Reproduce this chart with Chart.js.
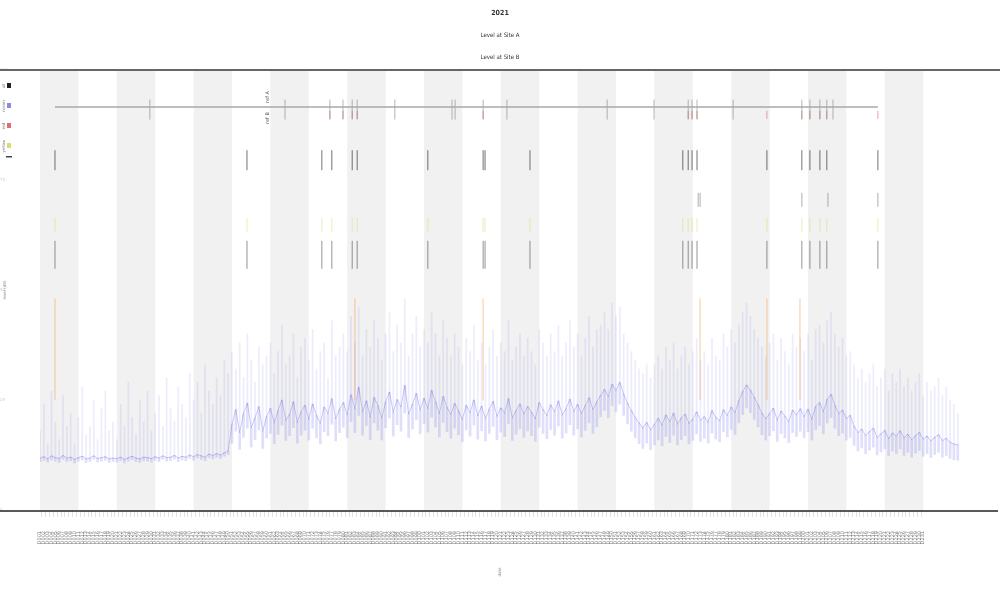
<!doctype html>
<html lang="en">
<head>
  <meta charset="utf-8">
  <title>Signal level with events</title>
  <style>
    * { margin: 0; padding: 0; }
    body { background: #fff; }
    .chartBox { width: 1000px; height: 600px; }
  </style>
</head>
<body>
  <div class="chartBox">
    <canvas id="myChart" width="1000" height="600"></canvas>
  </div>
  <script src="https://cdn.jsdelivr.net/npm/chart.js/dist/chart.umd.min.js"></script>
  <script>
    // setup - values (y: 0..100, x: sample index)
    const titleLines = ['2021', 'Level at Site A', 'Level at Site B'];
    const tickLabels = Array.from({ length: 231 }, (_, i) => 'D' + String(i + 1).padStart(3, '0'));
    const yTicks = [0, 25, 50, 75, 100];

    const blueMid = [
      11.8,12.1,11.6,12.3,11.9,11.7,12.4,11.8,12.0,11.5,
      11.9,12.2,11.6,11.8,12.3,11.7,11.9,12.1,11.6,11.8,
      11.7,12.0,11.5,11.9,12.2,11.8,11.6,12.0,11.9,11.7,
      12.1,11.8,12.3,11.9,12.0,12.4,11.8,12.2,12.0,12.5,
      12.1,12.6,12.3,12.0,12.7,12.4,12.8,12.5,13.0,13.4,
      19.5,22.8,17.6,21.9,24.3,18.7,20.9,23.5,17.9,21.2,
      23.1,19.8,22.6,25.0,20.4,21.7,24.6,19.9,22.3,23.8,
      20.6,24.1,21.5,19.7,23.4,22.0,25.3,20.8,22.9,24.4,
      21.6,26.2,23.0,27.9,22.4,24.8,21.1,25.6,23.7,20.9,
      24.5,26.8,22.2,25.1,23.4,28.3,21.8,24.0,26.5,22.7,
      25.4,23.1,27.2,24.6,21.9,25.8,23.3,
      21.7,24.2,22.5,20.6,23.8,22.1,25.0,21.4,23.6,20.8,
      22.9,24.7,21.3,23.2,22.0,25.3,20.9,22.6,24.1,21.8,
      23.5,22.2,20.7,24.4,22.8,21.5,23.9,22.3,24.8,21.6,
      23.0,25.2,22.4,24.0,21.9,23.7,25.5,22.8,24.6,
      26.0,27.4,25.8,28.6,27.1,29.0,26.3,
      24.2,22.6,21.0,19.8,18.6,19.9,18.2,19.4,
      20.8,19.3,21.6,20.1,22.0,19.5,20.9,21.8,19.7,20.6,
      22.3,20.4,21.2,19.9,22.6,21.0,20.3,22.8,21.5,23.4,22.1,
      24.8,26.9,28.4,27.2,25.6,23.9,
      22.0,20.7,21.9,23.1,20.4,22.5,21.3,20.1,22.7,21.6,23.0,
      21.2,22.9,20.6,23.5,24.4,22.3,25.1,26.3,23.8,21.9,22.7,20.8,21.5,
      19.0,17.6,18.4,16.9,17.8,18.6,16.5,17.3,18.1,16.2,
      17.5,16.8,18.0,16.4,17.2,15.9,16.9,17.6,16.1,16.8,
      15.7,16.5,17.1,15.8,16.3,15.4,15.0,14.8
    ];

    const blueLow = [
      11.0,11.3,10.9,11.4,11.1,10.8,11.5,11.0,11.2,10.7,
      11.1,11.4,10.8,11.0,11.5,10.9,11.1,11.3,10.8,11.0,
      10.9,11.2,10.7,11.1,11.4,11.0,10.8,11.2,11.1,10.9,
      11.3,11.0,11.5,11.1,11.2,11.6,11.0,11.4,11.2,11.7,
      11.3,11.8,11.5,11.2,11.9,11.6,12.0,11.7,12.2,12.6,
      15.2,17.9,13.8,16.5,18.6,14.3,16.0,18.2,14.0,16.4,
      17.4,15.1,17.2,19.3,15.8,16.9,18.7,15.2,17.0,18.1,
      15.9,18.6,16.4,15.0,17.8,16.9,19.5,15.7,17.6,18.8,
      16.4,20.1,17.6,21.5,17.0,19.2,16.0,19.8,18.1,15.9,
      18.7,20.9,16.8,19.4,17.9,22.0,16.5,18.4,20.5,17.3,
      19.6,17.7,21.1,18.9,16.6,19.9,17.8,
      16.3,18.6,17.1,15.5,18.2,16.8,19.3,16.1,18.0,15.7,
      17.4,19.0,16.0,17.7,16.7,19.6,15.8,17.2,18.5,16.5,
      18.0,16.9,15.6,18.8,17.4,16.2,18.3,17.0,19.1,16.3,
      17.5,19.4,17.0,18.4,16.6,18.1,19.8,17.4,18.9,
      21.2,22.6,21.0,23.7,22.3,24.1,21.5,
      19.6,17.9,16.4,15.1,14.0,15.2,13.7,14.8,
      15.9,14.6,16.7,15.3,17.0,14.8,16.0,16.9,15.0,15.8,
      17.3,15.6,16.3,15.2,17.5,16.1,15.5,17.8,16.6,18.3,17.2,
      19.8,21.7,23.2,22.1,20.6,18.9,
      17.1,15.9,16.9,18.0,15.6,17.4,16.4,15.3,17.6,16.7,17.9,
      16.4,17.8,15.9,18.3,19.2,17.3,19.8,21.0,18.6,16.9,17.5,15.9,16.5,
      14.7,13.4,14.1,12.8,13.6,14.3,12.5,13.2,13.9,12.3,
      13.4,12.8,13.9,12.4,13.1,12.0,12.9,13.5,12.2,12.8,
      11.9,12.6,13.1,12.0,12.4,11.7,11.4,11.3
    ];

    const blueHigh = [
      18,24,15,27,20,16,26,19,22,15,
      21,28,17,19,25,16,23,27,18,20,
      16,24,19,29,21,17,25,20,27,18,
      22,26,19,30,23,20,28,24,21,31,
      25,29,22,33,27,24,30,26,34,31,
      36,32,38,30,40,34,29,37,33,35,
      38,31,36,42,33,35,40,30,37,39,
      34,41,32,36,38,30,43,35,37,40,
      36,44,38,46,35,41,37,43,39,34,
      40,45,36,42,38,48,35,40,44,37,
      41,38,45,40,35,43,39,
      35,40,37,33,39,36,42,34,38,33,
      37,41,35,38,36,43,34,37,40,35,
      39,36,33,41,38,35,40,36,42,35,
      38,43,37,40,35,39,44,37,41,
      42,45,41,47,44,46,40,
      38,36,34,32,31,33,30,33,
      35,32,37,34,38,32,35,37,33,36,
      39,34,36,33,39,35,34,40,37,41,38,
      42,45,47,44,41,39,
      37,35,38,40,34,39,36,33,40,37,39,
      36,40,34,41,42,38,43,45,40,37,39,35,36,
      33,30,32,29,31,33,28,30,32,27,
      31,29,32,28,30,27,29,31,26,29,
      27,28,30,26,28,25,24,22
    ];

    // event positions (x in sample units)
    const eventsTop = [28.6, 63.8, 75.5, 78.9, 81.3, 82.6, 92.4, 107.3, 108.1, 115.4, 121.6, 147.7, 159.9,
      168.8, 169.8, 171.1, 180.5, 198.4, 200.5, 203.1, 204.9, 206.5];
    const eventsRed = [75.5, 78.9, 81.3, 82.6, 115.4, 168.8, 169.8, 171.1, 189.3, 198.4, 200.5, 203.1, 204.9, 218.2];
    const eventsBlack = [3.9, 53.9, 73.4, 76.0, 81.3, 82.6, 101.0, 115.4, 115.9, 127.6, 167.4, 168.8, 169.8,
      171.1, 189.3, 198.4, 200.5, 203.1, 204.9, 218.2];
    const eventsGrey = [171.4, 171.9, 198.4, 205.2, 218.2];
    const eventsOrange = [3.9, 82.0, 115.4, 171.9, 189.3, 197.9];
    const refLine = [3.9, 218.2];

    const rowLevels = { top: 91, red: 89.8, black: 79.5, grey: 70.5, yellow: 64.8, low: 58, ref: 91.6 };
    const orangeRange = [25, 48];

    const pts = (xs, y) => xs.map(x => ({ x, y }));

    const data = {
      datasets: [
        {
          type: 'line', label: 'mean', order: 1,
          data: blueMid.map((v, i) => ({ x: i, y: v })),
          borderColor: 'rgba(90, 90, 225, 0.4)', borderWidth: 0.8,
          pointRadius: 0, tension: 0
        },
        {
          type: 'bar', label: 'range', order: 4,
          data: blueLow.map((v, i) => ({ x: i, y: [v, blueMid[i]] })),
          backgroundColor: 'rgba(120, 120, 240, 0.24)', barThickness: 2, grouped: false
        },
        {
          type: 'bar', label: 'max', order: 3,
          data: blueMid.map((v, i) => ({ x: i, y: [v, blueHigh[i]] })),
          backgroundColor: 'rgba(130, 130, 240, 0.15)', barThickness: 1, grouped: false
        },
        {
          type: 'bar', label: 'peak', order: 2,
          data: eventsOrange.map(x => ({ x, y: orangeRange })),
          backgroundColor: 'rgba(240, 150, 60, 0.3)', barThickness: 1, grouped: false
        },
        {
          type: 'line', label: 'ref', order: 0,
          data: pts(refLine, rowLevels.ref),
          borderColor: '#a8a8a8', borderWidth: 1.5, pointRadius: 0
        },
        { type: 'scatter', label: 'all', data: pts(eventsTop, rowLevels.top), pointStyle: 'line', rotation: 90, radius: 10, borderColor: 'rgba(120,120,120,0.55)', borderWidth: 1 },
        { type: 'scatter', label: 'red', data: pts(eventsRed, rowLevels.red), pointStyle: 'line', rotation: 90, radius: 4, borderColor: 'rgba(220,70,70,0.5)', borderWidth: 1 },
        { type: 'scatter', label: 'black', data: pts(eventsBlack, rowLevels.black), pointStyle: 'line', rotation: 90, radius: 10, borderColor: 'rgba(40,40,40,0.65)', borderWidth: 1 },
        { type: 'scatter', label: 'grey', data: pts(eventsGrey, rowLevels.grey), pointStyle: 'line', rotation: 90, radius: 7, borderColor: 'rgba(110,110,110,0.55)', borderWidth: 1 },
        { type: 'scatter', label: 'yellow', data: pts(eventsBlack, rowLevels.yellow), pointStyle: 'line', rotation: 90, radius: 7, borderColor: 'rgba(225,215,110,0.5)', borderWidth: 1 },
        { type: 'scatter', label: 'low', data: pts(eventsBlack, rowLevels.low), pointStyle: 'line', rotation: 90, radius: 14, borderColor: 'rgba(60,60,60,0.55)', borderWidth: 1 }
      ]
    };

    // alternating grey bands, every 10 samples, over the sampled range
    const bands = {
      id: 'bands',
      beforeDatasetsDraw(chart) {
        const { ctx, chartArea: a, scales: { x } } = chart;
        ctx.save();
        ctx.fillStyle = '#f1f1f1';
        for (let k = 0; k < 240; k += 20) {
          const x0 = x.getPixelForValue(k);
          const x1 = x.getPixelForValue(k + 10);
          ctx.fillRect(x0, a.top, x1 - x0, a.bottom - a.top);
        }
        ctx.restore();
      }
    };

    // titles, frame lines, legend and small labels
    const decor = {
      id: 'decor',
      afterDraw(chart) {
        const { ctx, chartArea: a, scales: { x, y } } = chart;
        ctx.save();
        ctx.fillStyle = '#333';
        ctx.textAlign = 'center';
        ctx.textBaseline = 'middle';
        ctx.font = 'bold 7px "DejaVu Sans Condensed", "DejaVu Sans"';
        ctx.fillText(titleLines[0], 500, 13);
        ctx.font = '6px "DejaVu Sans Condensed", "DejaVu Sans"';
        ctx.fillText(titleLines[1], 500, 35);
        ctx.fillText(titleLines[2], 500, 57);

        ctx.strokeStyle = '#666';
        ctx.lineWidth = 2;
        ctx.beginPath();
        ctx.moveTo(0, a.top); ctx.lineTo(1000, a.top);
        ctx.stroke();
        ctx.strokeStyle = '#222';
        ctx.lineWidth = 1.5;
        ctx.beginPath();
        ctx.moveTo(0, a.bottom + 1); ctx.lineTo(998, a.bottom + 1);
        ctx.stroke();

        // legend
        const items = [['#222', 'all'], ['#8a8ae8', 'mean'], ['#e07070', 'red'], ['#d8dc70', 'yellow']];
        ctx.font = '4px "DejaVu Sans"';
        items.forEach(([c, t], i) => {
          const cy = 86 + i * 20;
          ctx.fillStyle = c;
          ctx.fillRect(7, cy - 3, 4, 5);
          ctx.save();
          ctx.translate(4, cy);
          ctx.rotate(-Math.PI / 2);
          ctx.fillStyle = '#777';
          ctx.fillText(t, 0, 0);
          ctx.restore();
        });
        ctx.fillStyle = '#444';
        ctx.fillRect(6, 156, 6, 1.5);

        // small labels by the reference line
        const lx = x.getPixelForValue(59.4);
        [[97, 'ref A'], [118, 'ref B']].forEach(([py, t]) => {
          ctx.save();
          ctx.translate(lx, py);
          ctx.rotate(-Math.PI / 2);
          ctx.fillStyle = '#555';
          ctx.font = '5px "DejaVu Sans"';
          ctx.fillText(t, 0, 0);
          ctx.restore();
        });

        // axis titles
        ctx.fillStyle = '#888';
        ctx.font = '4px "DejaVu Sans"';
        ctx.save();
        ctx.translate(500, 572);
        ctx.rotate(-Math.PI / 2);
        ctx.fillText('date', 0, 0);
        ctx.restore();
        ctx.save();
        ctx.translate(5, y.getPixelForValue(50));
        ctx.rotate(-Math.PI / 2);
        ctx.fillText('level (dB)', 0, 0);
        ctx.restore();
        ctx.restore();
      }
    };

    // config
    const config = {
      type: 'scatter',
      data,
      options: {
        responsive: false,
        animation: false,
        layout: { autoPadding: false, padding: { top: 70, right: 0, left: 0, bottom: 0 } },
        plugins: {
          legend: { display: false },
          tooltip: { enabled: false },
          title: { display: false }
        },
        scales: {
          x: {
            type: 'linear', min: 0, max: 250, offset: false,
            afterFit: s => { s.height = 90; s.paddingLeft = 0; s.paddingRight = 0; },
            border: { display: false },
            grid: {
              drawOnChartArea: false, tickLength: 21, lineWidth: 0.6,
              tickBorderDash: [7, 40],
              color: c => (c.tick && c.tick.value <= 230 ? '#cfcfcf' : 'rgba(0,0,0,0)')
            },
            ticks: {
              stepSize: 1, autoSkip: false, maxRotation: 90, minRotation: 90,
              color: '#777', padding: 0,
              font: { size: 5, family: 'DejaVu Sans' },
              callback: v => tickLabels[v]
            }
          },
          y: {
            min: 0, max: 100,
            afterFit: s => { s.width = 40; },
            afterBuildTicks: s => { s.ticks = yTicks.map(v => ({ value: v })); },
            border: { display: false },
            grid: { display: false },
            ticks: {
              color: '#cfcfcf', crossAlign: 'far',
              font: { size: 4, family: 'DejaVu Sans' }
            }
          }
        }
      },
      plugins: [bands, decor]
    };

    const myChart = new Chart(document.getElementById('myChart'), config);
  </script>
</body>
</html>
